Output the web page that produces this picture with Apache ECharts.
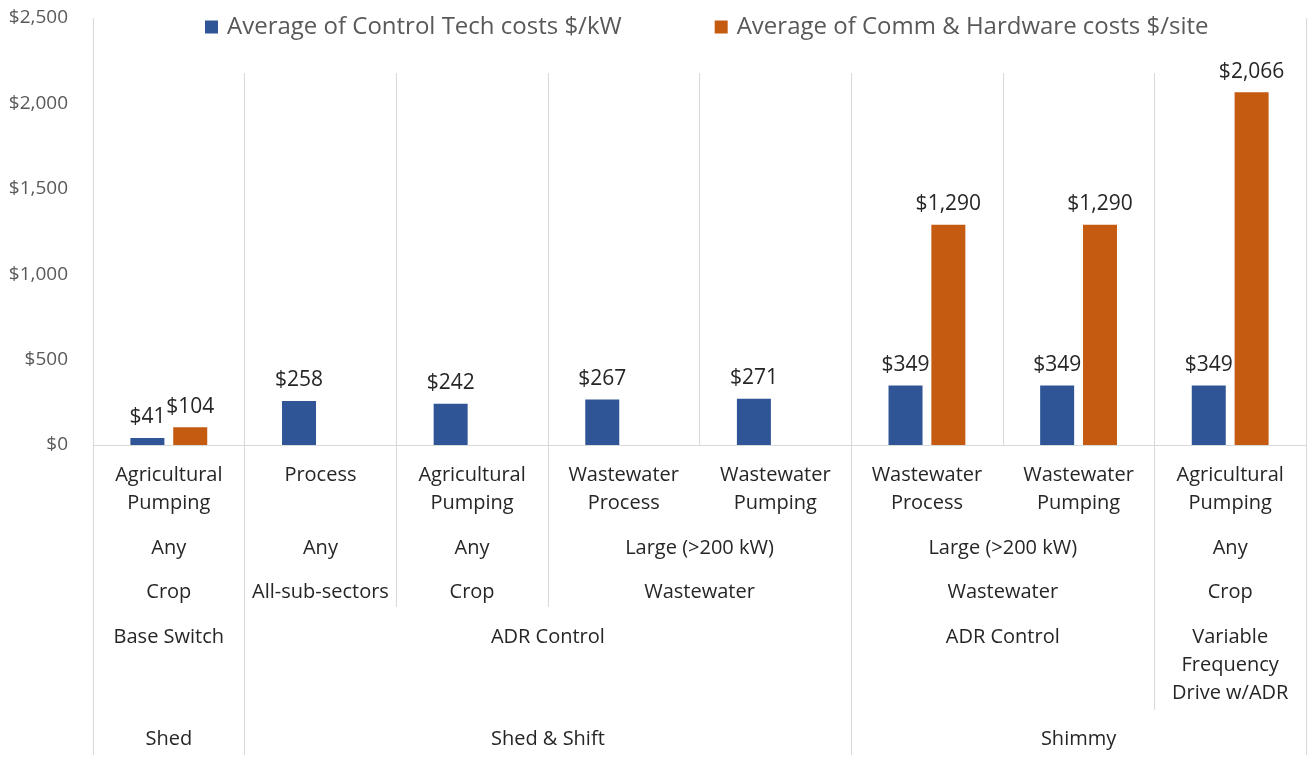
<!DOCTYPE html>
<html>
<head>
<meta charset="utf-8">
<script src="https://cdn.jsdelivr.net/npm/echarts@6/dist/echarts.min.js"></script>
<style>
  html, body { margin: 0; padding: 0; background: #fff; }
  #chart { width: 1310px; height: 757px; }
</style>
</head>
<body>
<div id="chart"></div>
<script>
// ---------- data ----------
const categories = [
  'Agricultural\nPumping', 'Process', 'Agricultural\nPumping', 'Wastewater\nProcess',
  'Wastewater\nPumping', 'Wastewater\nProcess', 'Wastewater\nPumping', 'Agricultural\nPumping'
];
const controlTechCosts = [41, 258, 242, 267, 271, 349, 349, 349];
const commHardwareCosts = [104, null, null, null, null, 1290, 1290, 2066];

const sizeLabels = ['Any', 'Any', 'Any', 'Large (>200 kW)', 'Large (>200 kW)', 'Any'];
const sizeSpans = [1, 1, 1, 2, 2, 1];
const sectorLabels = ['Crop', 'All-sub-sectors', 'Crop', 'Wastewater', 'Wastewater', 'Crop'];
const sectorSpans = [1, 1, 1, 2, 2, 1];
const technologyLabels = ['Base Switch', 'ADR Control', 'ADR Control', 'Variable\nFrequency\nDrive w/ADR'];
const technologySpans = [1, 4, 2, 1];
const strategyLabels = ['Shed', 'Shed & Shift', 'Shimmy'];
const strategySpans = [1, 4, 3];

const seriesNames = ['Average of Control Tech costs $/kW', 'Average of Comm & Hardware costs $/site'];
const yMin = 0, yMax = 2500, yStep = 500;

// ---------- styles ----------
const FONT = '"Open Sans", sans-serif';
const GRID_COLOR = '#d9d9d9';
const TEXT_DARK = '#262626';
const TEXT_GRAY = '#595959';
const levelMargins = [89, 133, 178, 280];
const levelTickDepths = [118, 162, 265, 310];

function money(v) {
  return '$' + Number(v).toLocaleString('en-US');
}

function groupsOf(labels, spans) {
  const out = [];
  let pos = 0;
  labels.forEach((l, i) => {
    out.push({ label: l, start: pos, end: pos + spans[i] });
    pos += spans[i];
  });
  return out;
}

const levels = [
  groupsOf(sizeLabels, sizeSpans),
  groupsOf(sectorLabels, sectorSpans),
  groupsOf(technologyLabels, technologySpans),
  groupsOf(strategyLabels, strategySpans)
];

// deepest level at which each boundary is a group boundary
const n = categories.length;
const deepest = {};
for (let b = 0; b <= n; b++) {
  levels.forEach((groups, li) => {
    if (groups.some(g => g.start === b || g.end === b)) deepest[b] = li;
  });
}

const levelAxes = levels.map((groups, li) => {
  const ticks = [];
  for (let b = 0; b <= n; b++) if (deepest[b] === li) ticks.push(b);
  const centers = groups.map(g => (g.start + g.end) / 2);
  return {
    type: 'value',
    gridIndex: 0,
    position: 'bottom',
    min: 0,
    max: n,
    axisLine: { show: false },
    splitLine: { show: false },
    axisTick: {
      show: ticks.length > 0,
      customValues: ticks,
      length: levelTickDepths[li],
      lineStyle: { color: GRID_COLOR, width: 1 }
    },
    axisLabel: {
      customValues: centers,
      margin: levelMargins[li],
      fontFamily: FONT,
      fontSize: 20,
      lineHeight: 28,
      color: TEXT_DARK,
      align: 'center',
      formatter: function (v) {
        const g = groups.find(gr => Math.abs((gr.start + gr.end) / 2 - v) < 1e-6);
        return g ? g.label : '';
      }
    }
  };
});

const chart = echarts.init(document.getElementById('chart'), null, { renderer: 'canvas' });

const labelStyle = {
  show: true,
  position: 'top',
  distance: 10,
  fontFamily: FONT,
  fontSize: 21,
  color: TEXT_DARK,
  formatter: p => money(p.value)
};

chart.setOption({
  animation: false,
  backgroundColor: '#ffffff',
  color: ['#2F5597', '#C55A11'],
  grid: { left: 93, right: 4, top: 18, bottom: 312, containLabel: false },
  legend: {
    data: seriesNames,
    left: 195,
    top: 5,
    padding: [10, 10, 34, 10],
    backgroundColor: '#ffffff',
    icon: 'rect',
    itemWidth: 13,
    itemHeight: 13,
    itemGap: 93,
    textStyle: { fontFamily: FONT, fontSize: 24, color: TEXT_GRAY, padding: [0, 0, 0, 4] }
  },
  xAxis: [
    {
      type: 'category',
      data: categories,
      gridIndex: 0,
      position: 'bottom',
      boundaryGap: true,
      axisLine: { show: true, lineStyle: { color: GRID_COLOR, width: 1 } },
      axisTick: { show: false },
      splitLine: { show: true, interval: 0, lineStyle: { color: GRID_COLOR, width: 1 } },
      axisLabel: {
        interval: 0,
        margin: 16,
        fontFamily: FONT,
        fontSize: 20,
        lineHeight: 28,
        color: TEXT_DARK
      }
    }
  ].concat(levelAxes),
  yAxis: {
    type: 'value',
    min: yMin,
    max: yMax,
    interval: yStep,
    axisLine: { show: false },
    axisTick: { show: false },
    splitLine: { show: false },
    axisLabel: {
      margin: 25,
      fontFamily: FONT,
      fontSize: 19,
      color: TEXT_GRAY,
      formatter: v => money(v)
    }
  },
  series: [
    {
      name: seriesNames[0],
      type: 'bar',
      xAxisIndex: 0,
      data: controlTechCosts,
      barWidth: 34,
      barGap: '26%',
      label: labelStyle
    },
    {
      name: seriesNames[1],
      type: 'bar',
      xAxisIndex: 0,
      data: commHardwareCosts,
      barWidth: 34,
      barGap: '26%',
      label: labelStyle
    }
  ]
});
</script>
</body>
</html>
